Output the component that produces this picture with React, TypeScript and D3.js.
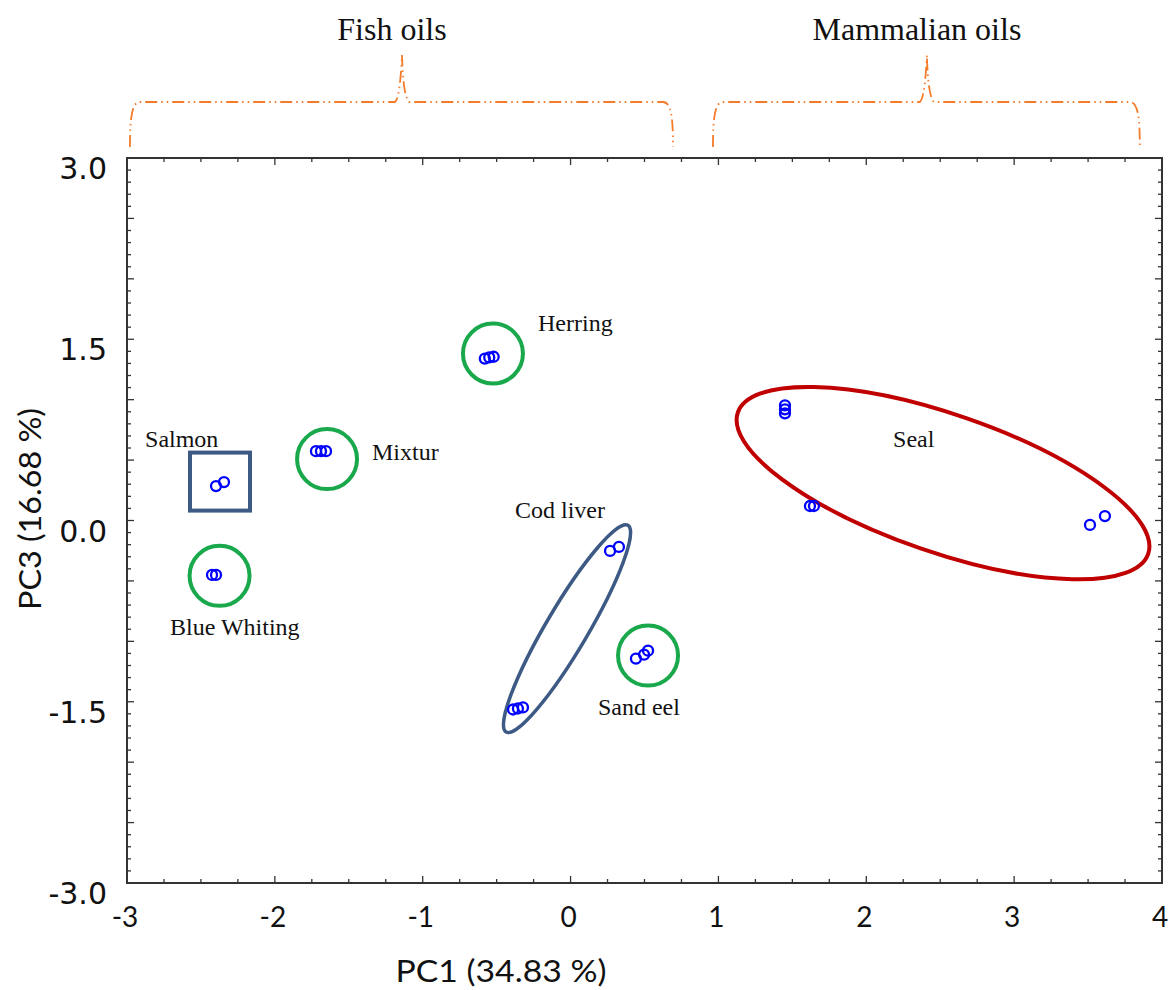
import React from "react";
import * as d3 from "d3";

// ---- data (PC1, PC3 scores) ----
const herring = [[-0.58, 1.34], [-0.55, 1.35], [-0.52, 1.355]];
const salmon = [[-2.398, 0.285], [-2.344, 0.318]];
const mixtur = [[-1.722, 0.574], [-1.688, 0.574], [-1.654, 0.574]];
const blueWhiting = [[-2.425, -0.45], [-2.398, -0.45]];
const codLiver = [[0.267, -0.252], [0.327, -0.219], [-0.389, -1.564], [-0.356, -1.556], [-0.322, -1.547]];
const sandEel = [[0.442, -1.143], [0.497, -1.11], [0.524, -1.077]];
const seal = [[1.45, 0.953], [1.45, 0.92], [1.45, 0.887], [1.619, 0.12], [1.646, 0.12], [3.513, -0.037], [3.614, 0.037]];

const groupLabels = [
  { text: "Herring", x: -0.22, y: 1.572 },
  { text: "Salmon", x: -2.878, y: 0.607 },
  { text: "Mixtur", x: -1.343, y: 0.5 },
  { text: "Cod liver", x: -0.376, y: 0.021 },
  { text: "Blue Whiting", x: -2.709, y: -0.945 },
  { text: "Sand eel", x: 0.185, y: -1.613 },
  { text: "Seal", x: 2.181, y: 0.607 },
];

// enclosure centres (data units)
const greenCircles = [[-0.525, 1.382], [-1.647, 0.508], [-2.374, -0.458], [0.524, -1.118]];
const salmonBox = [-2.371, 0.322];
const codEllipse = [-0.024, -0.895];
const sealEllipse = [2.519, 0.309];

// top brace annotations (left, peak, right in PC1 units)
const braces = [
  { label: "Fish oils", left: -2.98, peak: -1.14, right: 0.693 },
  { label: "Mammalian oils", left: 0.963, peak: 2.41, right: 3.85 },
];

const xLabelTicks = [-3, -2, -1, 0, 1, 2, 3, 4];
const yLabelTicks = [-3, -1.5, 0, 1.5, 3];

export default function App() {
  const W = 1169, H = 990;
  const L = 127, R = 1162, T = 158, B = 883;
  const x = d3.scaleLinear().domain([-3, 4]).range([L, R]);
  const y = d3.scaleLinear().domain([-3, 3]).range([B, T]);

  const xMinor = d3.range(-3, 4.0001, 0.25);
  const yMinor = d3.range(-3, 3.0001, 0.1);
  const isXMajor = (v: number) => Math.abs(v - Math.round(v)) < 1e-6;
  const isYMajor = (v: number) => Math.abs(v * 2 - Math.round(v * 2)) < 1e-6;

  const allPts = [herring, salmon, mixtur, blueWhiting, codLiver, sandEel, seal].flat();

  const bracePath = (b: { left: number; peak: number; right: number }) => {
    const xl = x(b.left), xp = x(b.peak), xr = x(b.right);
    const yb = 147, yh = 102, yt = 55;
    return `M${xl},${yb} C${xl},${yh + 15} ${xl + 2},${yh} ${xl + 10},${yh} L${xp - 7},${yh} Q${xp - 2},${yh - 4} ${xp},${yt} Q${xp + 1},${yh - 6} ${xp + 7},${yh} L${xr - 10},${yh} C${xr - 2},${yh} ${xr},${yh + 15} ${xr},${yb}`;
  };

  const axisColor = "#333";
  return (
    <svg width={W} height={H} style={{ display: "block", position: "absolute", left: 0, top: 0 }}>
      <rect width={W} height={H} fill="white" />
      {/* braces */}
      {braces.map((b) => (
        <g key={b.label}>
          <path d={bracePath(b)} fill="none" stroke="#F47B2A" strokeWidth={1.8}
            strokeDasharray="12,4,1.5,4,1.5,4" />
          <text x={x(b.peak) - 10} y={40} textAnchor="middle" fontFamily="Liberation Serif, Times New Roman, serif"
            fontSize={32} fill="#111">{b.label}</text>
        </g>
      ))}

      {/* ticks */}
      {xMinor.map((v, i) => {
        const len = isXMajor(v) ? 7 : 4;
        return (
          <g key={"xt" + i}>
            <line x1={x(v)} x2={x(v)} y1={B} y2={B - len} stroke={axisColor} strokeWidth={1.3} />
            <line x1={x(v)} x2={x(v)} y1={T} y2={T + len} stroke={axisColor} strokeWidth={1.3} />
          </g>
        );
      })}
      {yMinor.map((v, i) => {
        const len = isYMajor(v) ? 7 : 4;
        return (
          <g key={"yt" + i}>
            <line x1={L} x2={L + len} y1={y(v)} y2={y(v)} stroke={axisColor} strokeWidth={1.3} />
            <line x1={R} x2={R - len} y1={y(v)} y2={y(v)} stroke={axisColor} strokeWidth={1.3} />
          </g>
        );
      })}
      <rect x={L} y={T} width={R - L} height={B - T} fill="none" stroke={axisColor} strokeWidth={2} />

      {/* tick labels */}
      {xLabelTicks.map((v) => (
        <text key={"xl" + v} x={x(v) - 2} y={927} textAnchor="middle" fontFamily="Lato, sans-serif"
          fontSize={28} fill="#111">{v}</text>
      ))}
      {yLabelTicks.map((v) => (
        <text key={"yl" + v} x={107} y={y(v) + 21} textAnchor="end" fontFamily="DejaVu Sans, sans-serif"
          fontSize={30} fill="#111">{v.toFixed(1)}</text>
      ))}

      {/* axis titles */}
      <text x={501} y={982} textAnchor="middle" fontFamily="Lato, sans-serif" fontSize={30}
        textLength={211} lengthAdjust="spacingAndGlyphs" fill="#111">PC1 (34.83 %)</text>
      <text transform="translate(41,509) rotate(-90)" textAnchor="middle" fontFamily="Lato, sans-serif"
        fontSize={30} textLength={202} lengthAdjust="spacingAndGlyphs" fill="#111">PC3 (16.68 %)</text>

      {/* enclosures */}
      {greenCircles.map((c, i) => (
        <circle key={"gc" + i} cx={x(c[0])} cy={y(c[1])} r={30} fill="none" stroke="#19A84B" strokeWidth={4} />
      ))}
      <rect x={x(salmonBox[0]) - 30} y={y(salmonBox[1]) - 29} width={60} height={58} fill="none"
        stroke="#3D5A85" strokeWidth={4} />
      <ellipse cx={0} cy={0} rx={120} ry={21} fill="none" stroke="#3D5A85" strokeWidth={3.5}
        transform={`translate(${x(codEllipse[0])},${y(codEllipse[1])}) rotate(-59.5)`} />
      <ellipse cx={0} cy={0} rx={217} ry={69} fill="none" stroke="#C00000" strokeWidth={4}
        transform={`translate(${x(sealEllipse[0])},${y(sealEllipse[1])}) rotate(19)`} />

      {/* points */}
      {allPts.map((p, i) => (
        <circle key={"p" + i} cx={x(p[0])} cy={y(p[1])} r={5} fill="none" stroke="#0000FF" strokeWidth={2.3} />
      ))}

      {/* group labels */}
      {groupLabels.map((g) => (
        <text key={g.text} x={x(g.x)} y={y(g.y)} fontFamily="Liberation Serif, Times New Roman, serif"
          fontSize={24} fill="#111">{g.text}</text>
      ))}
    </svg>
  );
}
